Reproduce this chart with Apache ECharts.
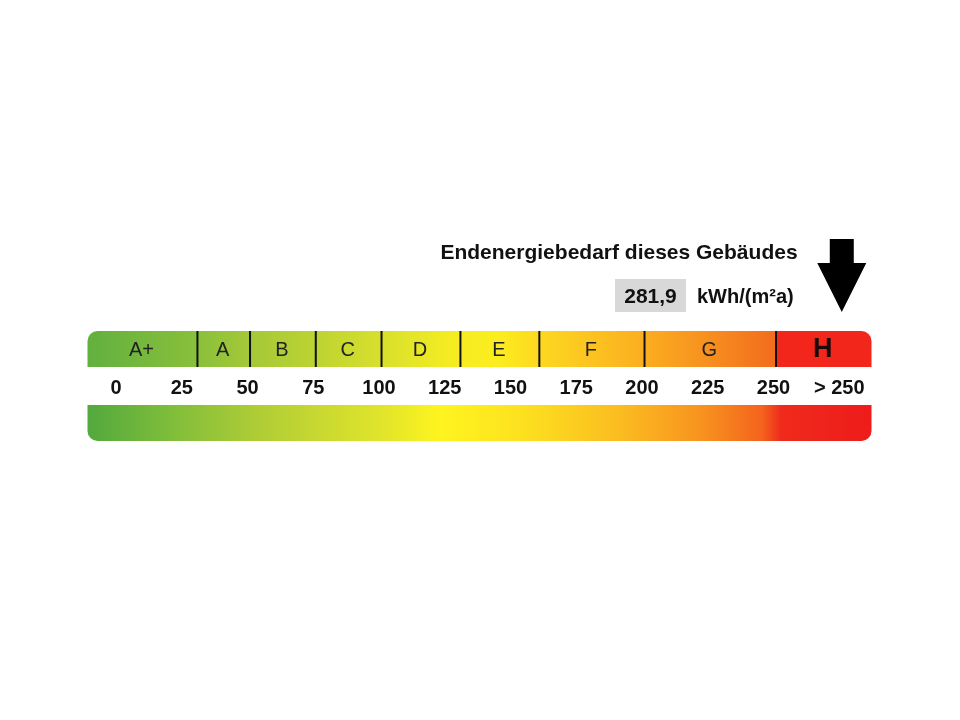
<!DOCTYPE html>
<html>
<head>
<meta charset="utf-8">
<script src="https://cdn.jsdelivr.net/npm/echarts/dist/echarts.min.js"></script>
<style>
html,body{margin:0;padding:0;background:#fff;}
#chart{width:960px;height:720px;}
</style>
</head>
<body>
<div id="chart"></div>
<script>
// ---- data ----
const bandNames = ['A+', 'A', 'B', 'C', 'D', 'E', 'F', 'G', 'H'];
const bandEdges = [-11.8, 30, 50, 75, 100, 130, 160, 200, 250, 286.3]; // first/last = scale ends
const tickValues = [0, 25, 50, 75, 100, 125, 150, 175, 200, 225, 250, 275];
const tickLabels = ['0', '25', '50', '75', '100', '125', '150', '175', '200', '225', '250', '> 250'];
const energyValue = 281.9;
const arrowValue = 275; // arrow shown over the "> 250" column
const titleText = 'Endenergiebedarf dieses Gebäudes';
const unitText = 'kWh/(m²a)';

// ---- styles ----
const FONT = '"Liberation Sans", Arial, sans-serif';
const topStops = [
  [0, '#62b03f'], [0.13, '#86bf3b'], [0.207, '#a4c838'], [0.29, '#bcd333'],
  [0.375, '#d8e02c'], [0.46, '#f3ec22'], [0.52, '#fcee1e'], [0.577, '#fdd820'],
  [0.704, '#fbb020'], [0.78, '#f7941f'], [0.88, '#f26b1e'], [1, '#f0281e']
];
const lowStops = [
  [0, '#52a93d'], [0.1, '#7dbc3b'], [0.22, '#b0cd36'], [0.38, '#e2e52a'],
  [0.45, '#fff41f'], [0.55, '#fde21f'], [0.68, '#fbbc20'], [0.78, '#f8941f'],
  [0.86, '#f4641e'], [0.885, '#ef2a1c'], [1, '#ee1c1a']
];
const hColor = '#f3261c';

function grad(x0, x1, stops) {
  return new echarts.graphic.LinearGradient(x0, 0, x1, 0,
    stops.map(s => ({ offset: s[0], color: s[1] })), true);
}

const chart = echarts.init(document.getElementById('chart'), null, { renderer: 'canvas' });

const xMin = bandEdges[0], xMax = bandEdges[bandEdges.length - 1];
const nBands = bandNames.length;

const option = {
  animation: false,
  backgroundColor: '#ffffff',
  grid: [
    { left: 87.5, right: 88.5, top: 331, height: 36 },
    { left: 87.5, right: 88.5, top: 405, height: 36 }
  ],
  xAxis: [
    { gridIndex: 0, type: 'value', min: xMin, max: xMax, show: false },
    {
      gridIndex: 1, type: 'value', min: xMin, max: xMax, position: 'top',
      axisLine: { show: false }, axisTick: { show: false }, splitLine: { show: false },
      axisLabel: {
        customValues: tickValues,
        formatter: v => { const i = tickValues.indexOf(v); return i >= 0 ? tickLabels[i] : ''; },
        fontSize: 20, fontWeight: 'bold', color: '#111', fontFamily: FONT, margin: 7,
        padding: [0, 5, 0, 0]
      }
    }
  ],
  yAxis: [
    { gridIndex: 0, type: 'value', min: 0, max: 1, show: false },
    { gridIndex: 1, type: 'value', min: 0, max: 1, show: false }
  ],
  graphic: [
    {
      type: 'text', x: 619, y: 253,
      style: { text: titleText, fill: '#111', font: 'bold 21px ' + FONT, align: 'center', verticalAlign: 'middle' },
      z: 10
    },
    { type: 'rect', shape: { x: 615, y: 279, width: 71, height: 33 }, style: { fill: '#d8d8d8' }, z: 9 },
    {
      type: 'text', x: 650.5, y: 297,
      style: { text: energyValue.toFixed(1).replace('.', ','), fill: '#111', font: 'bold 21px ' + FONT, align: 'center', verticalAlign: 'middle' },
      z: 10
    },
    {
      type: 'text', x: 697, y: 297,
      style: { text: unitText, fill: '#111', font: 'bold 20px ' + FONT, align: 'left', verticalAlign: 'middle' },
      z: 10
    }
  ],
  series: [
    {
      type: 'custom', xAxisIndex: 0, yAxisIndex: 0, clip: false,
      data: bandNames.map((n, i) => [bandEdges[i], bandEdges[i + 1], n]),
      renderItem: function (params, api) {
        const i = params.dataIndex;
        const s = api.value(0), e = api.value(1);
        const p0 = api.coord([s, 1]), p1 = api.coord([e, 0]);
        const gx0 = api.coord([xMin, 0])[0], gx1 = api.coord([xMax, 0])[0];
        let r = [0, 0, 0, 0];
        if (i === 0) r = [10, 0, 0, 0];
        if (i === nBands - 1) r = [0, 10, 0, 0];
        const isLast = i === nBands - 1;
        const children = [{
          type: 'rect',
          shape: { x: p0[0], y: p0[1], width: p1[0] - p0[0], height: p1[1] - p0[1], r: r },
          style: { fill: isLast ? hColor : grad(gx0, gx1, topStops) }
        }];
        if (i > 0) {
          children.push({
            type: 'line',
            shape: { x1: p0[0], y1: p0[1], x2: p0[0], y2: p1[1] },
            style: { stroke: '#111', lineWidth: 2 }
          });
        }
        children.push({
          type: 'text',
          style: {
            text: bandNames[i], x: (p0[0] + p1[0]) / 2 - 1, y: (p0[1] + p1[1]) / 2 + 1,
            align: 'center', verticalAlign: 'middle',
            font: isLast ? 'bold 27px ' + FONT : '20px ' + FONT,
            fill: isLast ? '#1a0a0a' : '#222'
          }
        });
        return { type: 'group', children: children };
      }
    },
    {
      type: 'custom', xAxisIndex: 1, yAxisIndex: 1, clip: false,
      data: [[xMin, xMax]],
      renderItem: function (params, api) {
        const p0 = api.coord([api.value(0), 1]), p1 = api.coord([api.value(1), 0]);
        return {
          type: 'rect',
          shape: { x: p0[0], y: p0[1], width: p1[0] - p0[0], height: p1[1] - p0[1], r: [0, 0, 10, 10] },
          style: { fill: grad(p0[0], p1[0], lowStops) }
        };
      }
    },
    {
      type: 'custom', xAxisIndex: 0, yAxisIndex: 0, clip: false,
      data: [[arrowValue]],
      renderItem: function (params, api) {
        const p = api.coord([api.value(0), 1]);
        const x = p[0], tipY = p[1] - 19;
        return {
          type: 'polygon',
          shape: {
            points: [
              [x - 12, tipY - 73], [x + 12, tipY - 73], [x + 12, tipY - 49],
              [x + 24.5, tipY - 49], [x, tipY], [x - 24.5, tipY - 49], [x - 12, tipY - 49]
            ]
          },
          style: { fill: '#000' }
        };
      }
    }
  ]
};
chart.setOption(option);
</script>
</body>
</html>
